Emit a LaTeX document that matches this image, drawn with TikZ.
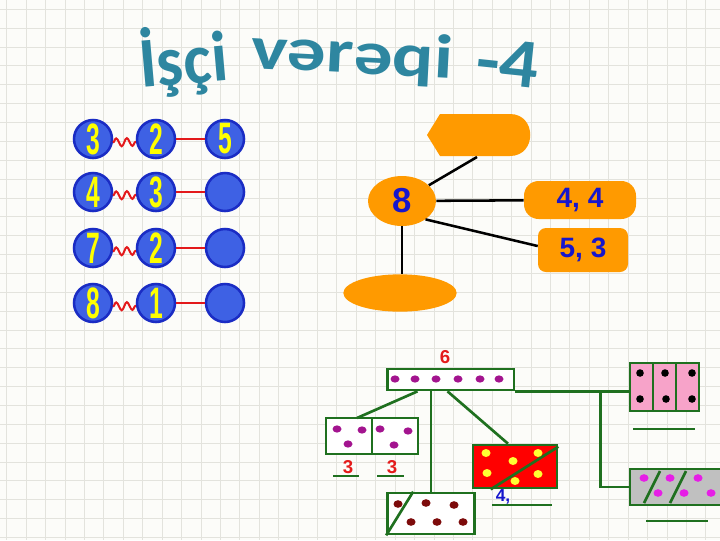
\documentclass[tikz,border=0pt]{standalone}
\usepackage{fontspec}
\usepackage{graphicx}
\usepackage{tikz}
\usetikzlibrary{positioning,calc,shapes.geometric,decorations.pathmorphing}
\newfontfamily\titlefont{Carlito}
\newfontfamily\arialfont{Liberation Sans}
\definecolor{Paper}{HTML}{FCFCF9}
\definecolor{GridLine}{HTML}{E3E3DD}
\definecolor{Title}{HTML}{2E86A0}
\definecolor{Disc}{HTML}{3E61E4}
\definecolor{DiscRim}{HTML}{1A2CC4}
\definecolor{Digit}{HTML}{FFFF00}
\definecolor{Wire}{HTML}{E3191B}
\definecolor{Peel}{HTML}{FF9A00}
\definecolor{Ink}{HTML}{1616CC}
\definecolor{Leaf}{HTML}{1F701F}
\definecolor{Plum}{HTML}{A3148F}
\definecolor{Magenta}{HTML}{E61EE6}
\definecolor{Maroon}{HTML}{7D0B0B}
\definecolor{Rose}{HTML}{F7A3C9}
\definecolor{Stone}{HTML}{C0C0C0}
\definecolor{Scarlet}{HTML}{FF0000}
\definecolor{Lemon}{HTML}{FFFF33}
\definecolor{Alarm}{HTML}{E41B1B}
\newcommand{\discnum}[1]{\scalebox{0.56}[1]{\arialfont\bfseries\fontsize{33}{33}\selectfont #1}}
\tikzset{
  gridline/.style={draw=GridLine,line width=.6pt},
  headline/.style={text=Title,font=\titlefont\bfseries\fontsize{58}{60}\selectfont,inner sep=0pt,anchor=base west},
  disc/.style={circle,draw=DiscRim,fill=Disc,text=Digit,line width=1.9pt,minimum size=28.5pt,inner sep=0pt},
  wire/.style={draw=Wire,line width=1.8pt},
  squiggle/.style={wire,line width=1.5pt,decorate,decoration={snake,amplitude=3pt,segment length=8pt}},
  blob/.style={fill=Peel,text=Ink,font=\arialfont\bfseries\fontsize{21}{21}\selectfont,inner sep=0pt},
  tie/.style={draw=black,line width=1.9pt},
  tray/.style={draw=Leaf,fill=white,line width=2pt,inner sep=0pt},
  stem/.style={draw=Leaf,line width=2pt},
  tag/.style={text=Alarm,font=\arialfont\bfseries\fontsize{14}{14}\selectfont,inner sep=0pt}
}
\begin{document}
\begin{tikzpicture}[x=0.75pt,y=-0.75pt]
  \useasboundingbox (0,0) rectangle (720,540);
  \clip (0,0) rectangle (720,540);
  \fill[Paper] (0,0) rectangle (720,540);
  % squared paper
  \foreach \gx in {0,...,36} \draw[gridline] (6.7+19.42*\gx,0) -- ++(0,540);
  \foreach \gy in {0,...,28} \draw[gridline] (0,9.3+18.86*\gy) -- ++(720,0);

  % title
  \node[headline,rotate=5,xscale=0.86,yscale=0.92] (wordA) at (141,88) {İşçi};
  \node[headline,rotate=-3,yscale=0.8] (wordB) at (250,68) {vərəqi};
  \node[headline,rotate=-6,yscale=0.9] (wordC) at (474,82) {-4};

  % number pairs
  \foreach \y/\a/\b/\c [count=\i] in {139/3/2/5, 192/4/3/{}, 248/7/2/{}, 303/8/1/{}} {
    \node[disc] (left\i) at (93,\y) {\discnum{\a}};
    \node[disc] (mid\i) at (156,\y) {\discnum{\b}};
    \node[disc] (sum\i) at (225,\y) {\discnum{\c}};
    \draw[squiggle] (left\i.-10) -- (mid\i.-172);
    \draw[wire] (mid\i) -- (sum\i);
  }

  % decomposition of 8
  \fill[Peel] (427,135) -- (440,114) -- (510,114) .. controls (537,114) and (537,156) .. (510,156) -- (440,156) -- cycle;
  \coordinate (tip) at (477,157);
  \node[blob,ellipse,minimum width=51pt,minimum height=37.5pt,font=\arialfont\bfseries\fontsize{26}{26}\selectfont] (eight) at (402,201) {8};
  \node[blob,rounded corners=11pt,minimum width=84pt,minimum height=28.5pt] (pairA) at (580,200) {4, 4};
  \node[blob,rounded corners=6pt,minimum width=67.5pt,minimum height=33pt] (pairB) at (583,250) {5, 3};
  \node[blob,ellipse,minimum width=85pt,minimum height=28pt] (base) at (400,293) {};
  \draw[tie] (tip) -- (eight);
  \draw[tie] (eight) -- (pairA);
  \draw[tie] (eight.-38) -- (pairB.175);
  \draw[tie] (eight.south) -- (eight.south |- base.north);

  % six split into parts
  \node[tag] (six) at (445,357) {6};
  \node[tray,minimum width=95pt,minimum height=15.75pt] (whole) at (450.5,379.5) {};
  \foreach \dx in {395,415,436,458,480,499} \fill[Plum] (\dx,379) ellipse [x radius=4.5,y radius=3.6];

  \node[tray,outer sep=0pt,minimum width=34.5pt,minimum height=27pt] (halfA) at (349,436) {};
  \node[tray,outer sep=0pt,minimum width=34.5pt,minimum height=27pt,right=0pt of halfA] (halfB) {};
  \foreach \p in {(337,429),(362,430),(348,444),(380,429),(408,431),(394,445)} \fill[Plum] \p ellipse [x radius=4.5,y radius=3.6];
  \node[tag] (thirdA) at (348,467) {3};
  \node[tag] (thirdB) at (392,467) {3};
  \draw[stem] (333,476) -- (359,476);
  \draw[stem] (377,476) -- (404,476);

  \node[tray,minimum width=65.25pt,minimum height=30.75pt] (rest) at (431,513.5) {};
  \draw[stem] (rest.south west) -- ($(rest.north west)+(27,0)$);
  \foreach \p in {(398,504),(426,503),(454,505),(411,522),(437,522),(463,522)} \fill[Maroon] \p ellipse [x radius=4.5,y radius=3.8];

  \node[tray,fill=Scarlet,minimum width=63pt,minimum height=32.25pt] (redbox) at (515,466.5) {};
  \draw[stem] ($(redbox.south west)+(19,0)$) -- ($(redbox.north east)+(0,3)$);
  \foreach \p in {(486,453),(513,461),(538,453),(487,473),(515,481),(538,474)} \fill[Lemon] \p ellipse [x radius=4.5,y radius=4];
  \node[text=Ink,font=\arialfont\bfseries\fontsize{13}{13}\selectfont,inner sep=0pt] (four) at (503,497) {4,};
  \draw[stem] (492,505) -- (552,505);

  \draw[stem] ($(whole.south)+(-33,0)$) -- ($(halfA.north)+(8,0)$);
  \draw[stem] (rest.north |- whole.south) -- (rest.north);
  \draw[stem] ($(whole.south)+(-3,0)$) -- ($(redbox.north)+(-7,0)$);

  % right hand parts
  \node[tray,fill=Rose,outer sep=0pt,minimum width=17.25pt,minimum height=36pt] (cellA) at (641.5,387) {};
  \node[tray,fill=Rose,outer sep=0pt,minimum width=17.25pt,minimum height=36pt,right=0pt of cellA] (cellB) {};
  \node[tray,fill=Rose,outer sep=0pt,minimum width=17.25pt,minimum height=36pt,right=0pt of cellB] (cellC) {};
  \foreach \p in {(640,373),(640,399),(665,373),(666,399),(692,373),(692,399)} \fill[black] \p circle [radius=3.8];
  \draw[stem] (633,429) -- (695,429);

  \node[tray,fill=Stone,minimum width=71.25pt,minimum height=27pt] (grey) at (677.5,487) {};
  \draw[stem] (644,503) -- (660,471);
  \draw[stem] (670,503) -- (686,471);
  \foreach \p in {(644,478),(658,493),(670,478),(684,493),(698,478),(711,493)} \fill[Magenta] \p ellipse [x radius=4.5,y radius=3.8];
  \draw[stem] (646,521) -- (708,521);

  \coordinate (fork) at ($(whole.south east)+(85,0)$);
  \draw[stem] (whole.south east) -- (cellA.west |- whole.south east);
  \draw[stem] (fork) |- (grey.west);
\end{tikzpicture}
\end{document}
